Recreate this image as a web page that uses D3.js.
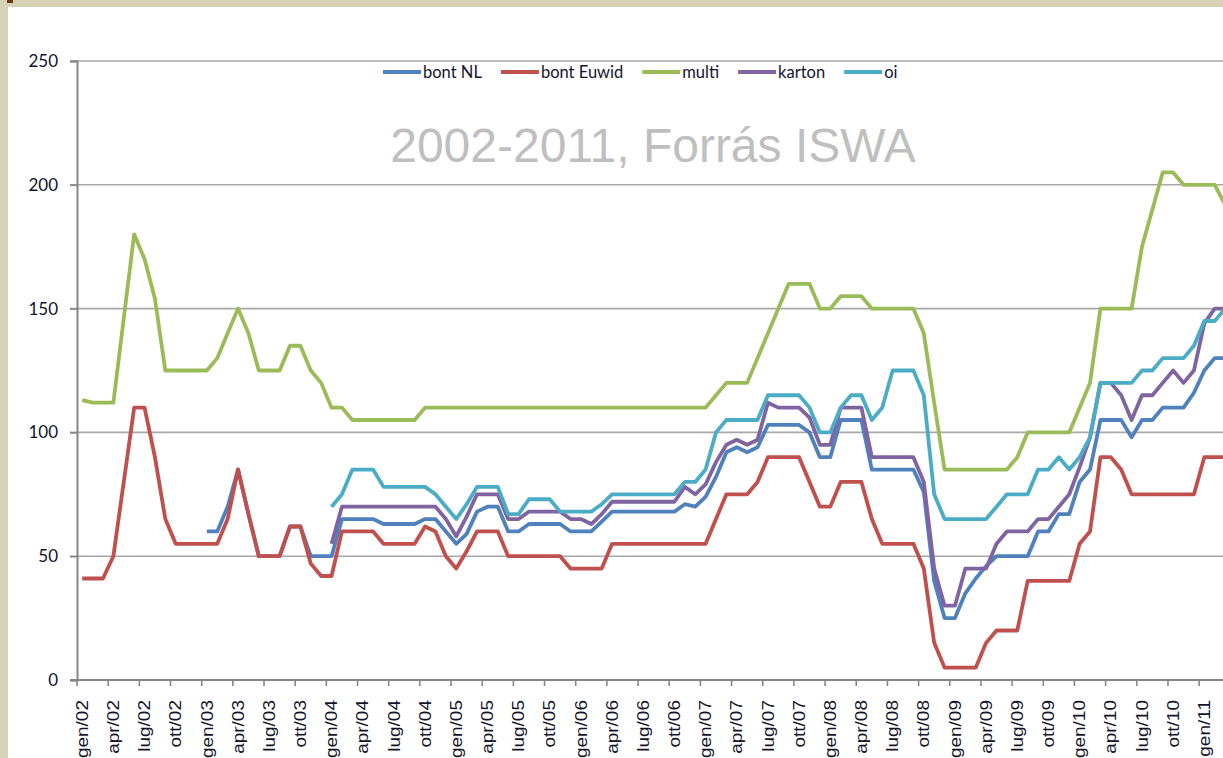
<!DOCTYPE html>
<html lang="it">
<head>
<meta charset="utf-8">
<title>Prezzi carta da macero 2002-2011</title>
<script src="https://cdn.jsdelivr.net/npm/d3@7"></script>
<style>
  html, body { margin: 0; padding: 0; background: #d7d1b8; }
  svg { display: block; }
</style>
</head>
<body>
<div class="chart"></div>
<script>
// month labels (italian abbreviations, as in the original)
const monthNames = ["gen", "feb", "mar", "apr", "mag", "giu", "lug", "ago", "set", "ott", "nov", "dic"];
const years = ["02", "03", "04", "05", "06", "07", "08", "09", "10", "11"];
const yTicks = [0, 50, 100, 150, 200, 250];
const seriesNames = ["bont NL", "bont Euwid", "multi", "karton", "oi"];
const seriesColors = ["#4f81bd", "#c0504d", "#9bbb59", "#8064a2", "#4bacc6"];

const _ = null;

const bontNL = [
  _, _, _, _, _, _, _, _, _, _,
  _, _, 60, 60, 70, 85, 67, 50, 50, 50,
  62, 62, 50, 50, 50, 65, 65, 65, 65, 63,
  63, 63, 63, 65, 65, 60, 55, 59, 68, 70,
  70, 60, 60, 63, 63, 63, 63, 60, 60, 60,
  64, 68, 68, 68, 68, 68, 68, 68, 71, 70,
  74, 82, 92, 94, 92, 94, 103, 103, 103, 103,
  100, 90, 90, 105, 105, 105, 85, 85, 85, 85,
  85, 76, 40, 25, 25, 35, 41, 46, 50, 50,
  50, 50, 60, 60, 67, 67, 80, 85, 105, 105,
  105, 98, 105, 105, 110, 110, 110, 116, 125, 130,
  130
];

const bontEuwid = [
  41, 41, 41, 50, 80, 110, 110, 90, 65, 55,
  55, 55, 55, 55, 65, 85, 67, 50, 50, 50,
  62, 62, 47, 42, 42, 60, 60, 60, 60, 55,
  55, 55, 55, 62, 60, 50, 45, 52, 60, 60,
  60, 50, 50, 50, 50, 50, 50, 45, 45, 45,
  45, 55, 55, 55, 55, 55, 55, 55, 55, 55,
  55, 65, 75, 75, 75, 80, 90, 90, 90, 90,
  80, 70, 70, 80, 80, 80, 65, 55, 55, 55,
  55, 45, 15, 5, 5, 5, 5, 15, 20, 20,
  20, 40, 40, 40, 40, 40, 55, 60, 90, 90,
  85, 75, 75, 75, 75, 75, 75, 75, 90, 90,
  90
];

const multi = [
  113, 112, 112, 112, 146, 180, 170, 154, 125, 125,
  125, 125, 125, 130, 140, 150, 140, 125, 125, 125,
  135, 135, 125, 120, 110, 110, 105, 105, 105, 105,
  105, 105, 105, 110, 110, 110, 110, 110, 110, 110,
  110, 110, 110, 110, 110, 110, 110, 110, 110, 110,
  110, 110, 110, 110, 110, 110, 110, 110, 110, 110,
  110, 115, 120, 120, 120, 130, 140, 150, 160, 160,
  160, 150, 150, 155, 155, 155, 150, 150, 150, 150,
  150, 140, 112, 85, 85, 85, 85, 85, 85, 85,
  90, 100, 100, 100, 100, 100, 110, 120, 150, 150,
  150, 150, 175, 190, 205, 205, 200, 200, 200, 200,
  192
];

const karton = [
  _, _, _, _, _, _, _, _, _, _,
  _, _, _, _, _, _, _, _, _, _,
  _, _, _, _, 55, 70, 70, 70, 70, 70,
  70, 70, 70, 70, 70, 65, 58, 66, 75, 75,
  75, 65, 65, 68, 68, 68, 68, 65, 65, 63,
  67, 72, 72, 72, 72, 72, 72, 72, 78, 75,
  79, 88, 95, 97, 95, 97, 112, 110, 110, 110,
  106, 95, 95, 110, 110, 110, 90, 90, 90, 90,
  90, 80, 45, 30, 30, 45, 45, 45, 55, 60,
  60, 60, 65, 65, 70, 75, 86, 98, 120, 120,
  115, 105, 115, 115, 120, 125, 120, 125, 144, 150,
  150
];

const oi = [
  _, _, _, _, _, _, _, _, _, _,
  _, _, _, _, _, _, _, _, _, _,
  _, _, _, _, 70, 75, 85, 85, 85, 78,
  78, 78, 78, 78, 75, 70, 65, 71, 78, 78,
  78, 67, 67, 73, 73, 73, 68, 68, 68, 68,
  71, 75, 75, 75, 75, 75, 75, 75, 80, 80,
  85, 100, 105, 105, 105, 105, 115, 115, 115, 115,
  110, 100, 100, 110, 115, 115, 105, 110, 125, 125,
  125, 115, 75, 65, 65, 65, 65, 65, 70, 75,
  75, 75, 85, 85, 90, 85, 90, 98, 120, 120,
  120, 120, 125, 125, 130, 130, 130, 135, 145, 145,
  150
];

const seriesValues = [bontNL, bontEuwid, multi, karton, oi];

const months = [];
years.forEach(y => monthNames.forEach(m => months.push(`${m}/${y}`)));
const categories = months.slice(0, bontNL.length);

const width = 1223, height = 758;
const plotLeft = 77, plotTop = 61, plotBottom = 680;
const step = 10.39;

const svg = d3.select(".chart")
  .append("svg")
  .attr("width", width)
  .attr("height", height)
  .attr("viewBox", [0, 0, width, height]);

// paper background + white chart area
svg.append("rect")
  .attr("width", width)
  .attr("height", height)
  .attr("fill", "#d7d1b8");
svg.append("rect")
  .attr("x", 7).attr("y", 0)
  .attr("width", 6).attr("height", 3)
  .attr("fill", "#6b3a12");
svg.append("rect")
  .attr("x", 8).attr("y", 7)
  .attr("width", width - 8)
  .attr("height", height - 7)
  .attr("fill", "#fff");

const x = d3.scaleBand()
  .domain(categories)
  .range([plotLeft, plotLeft + step * categories.length])
  .paddingInner(0)
  .paddingOuter(0);

const y = d3.scaleLinear()
  .domain([0, 250])
  .range([plotBottom, plotTop]);

// gridlines
svg.append("g")
  .selectAll("line")
  .data(yTicks.filter(d => d > 0))
  .join("line")
  .attr("x1", plotLeft - 7)
  .attr("x2", width)
  .attr("y1", d => y(d))
  .attr("y2", d => y(d))
  .attr("stroke", "#a8a8a8")
  .attr("stroke-width", 1.6);

// y axis
const yAxis = svg.append("g")
  .attr("transform", `translate(${plotLeft},0)`)
  .call(d3.axisLeft(y).tickValues(yTicks).tickSize(7).tickPadding(12));
yAxis.select(".domain").attr("stroke", "#868686").attr("stroke-width", 2);
yAxis.selectAll(".tick line").attr("stroke", "#868686").attr("stroke-width", 1.6);
yAxis.selectAll(".tick text")
  .attr("fill", "#14142a")
  .attr("font-family", "Lato, sans-serif")
  .attr("font-size", "17px");

// x axis: ticks at every third category boundary, labels centred on categories
const tickCats = categories.filter((d, i) => i % 3 === 0);
svg.append("line")
  .attr("x1", plotLeft - 7)
  .attr("x2", width)
  .attr("y1", plotBottom)
  .attr("y2", plotBottom)
  .attr("stroke", "#868686")
  .attr("stroke-width", 2);

svg.append("g")
  .selectAll("line")
  .data(tickCats)
  .join("line")
  .attr("x1", d => x(d))
  .attr("x2", d => x(d))
  .attr("y1", plotBottom)
  .attr("y2", plotBottom + 6)
  .attr("stroke", "#868686")
  .attr("stroke-width", 1.6);

// labels are tall and narrow in the original, so squeeze them a bit across
svg.append("g")
  .selectAll("text")
  .data(tickCats)
  .join("text")
  .attr("transform", d => `translate(${x(d) + x.bandwidth() / 2},700) rotate(-90) scale(1,0.85)`)
  .attr("dy", "0.35em")
  .attr("text-anchor", "end")
  .attr("fill", "#14142a")
  .attr("font-family", "Liberation Sans, Arial, sans-serif")
  .attr("font-size", "19px")
  .text(d => d);

// series lines
const line = d3.line()
  .defined(d => d.v !== null)
  .x(d => x(d.c) + x.bandwidth() / 2)
  .y(d => y(d.v));

svg.append("g")
  .selectAll("path")
  .data(seriesValues)
  .join("path")
  .attr("fill", "none")
  .attr("stroke", (d, i) => seriesColors[i])
  .attr("stroke-width", 3.8)
  .attr("stroke-linejoin", "round")
  .attr("d", vals => line(vals.map((v, i) => ({c: categories[i], v: v}))));

// title
svg.append("text")
  .attr("x", 653)
  .attr("y", 162)
  .attr("text-anchor", "middle")
  .attr("fill", "#bfbfbf")
  .attr("font-family", "Liberation Sans, Arial, sans-serif")
  .attr("font-size", "48px")
  .text("2002-2011, Forrás ISWA");

// legend
const legend = svg.append("g")
  .attr("transform", "translate(383,72)");
let lx = 0;
seriesNames.forEach((name, i) => {
  const item = legend.append("g").attr("transform", `translate(${lx},0)`);
  item.append("line")
    .attr("x1", 0).attr("x2", 38)
    .attr("stroke", seriesColors[i])
    .attr("stroke-width", 3.8);
  const t = item.append("text")
    .attr("x", 40)
    .attr("dy", "0.35em")
    .attr("fill", "#14142a")
    .attr("font-family", "Lato, sans-serif")
    .attr("font-size", "16.5px")
    .text(name);
  lx += 40 + t.node().getComputedTextLength() + 19;
});
</script>
</body>
</html>
